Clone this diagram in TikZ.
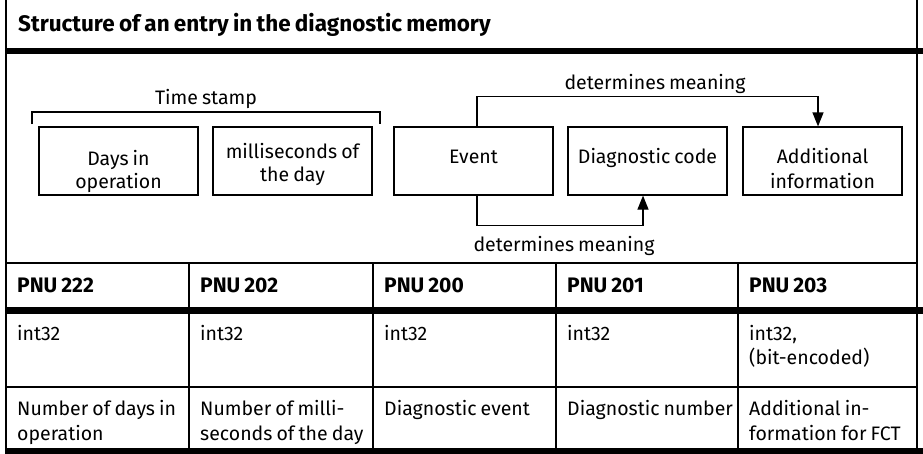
\documentclass[tikz,border=0pt]{standalone}
\usepackage{fontspec}
\setmainfont[WordSpace=0.8]{Fira Sans}
\usetikzlibrary{arrows.meta}

\begin{document}
\begin{tikzpicture}[x=1pt,y=-1pt,
  rule/.style={line width=1.2pt},
  heavyrule/.style={line width=6.5pt},
  box/.style={draw,line width=1.2pt,minimum width=159pt,minimum height=68pt,inner sep=0pt},
  lbl/.style={inner sep=0pt,font=\fontsize{19.5}{24}\selectfont},
  txt/.style={lbl,anchor=base west},
  ctr/.style={lbl,anchor=base},
  hdr/.style={inner sep=0pt,anchor=base west,font=\bfseries\fontsize{21}{24}\selectfont},
  arr/.style={line width=1.2pt,-{Triangle[length=14pt,width=11pt]}}]
\useasboundingbox (0,0) rectangle (923,453);

% frame and title bar
\draw[rule] (6,0) -- (6,453);
\draw[rule] (917,0) -- (917,448);
\node[inner sep=0pt,anchor=base west,font=\bfseries\fontsize{22.5}{24}\selectfont] (title) at (18,31)
  {Structure of an entry in the diagnostic memory};
\draw[heavyrule] (5.4,51) -- (923,51);

% entry fields
\node[box] (days) at (118.5,161) {};
\node[box] (ms)   at (292.5,161) {};
\node[box] (ev)   at (473.5,161) {};
\node[box] (dc)   at (647.5,161) {};
\node[box] (ai)   at (822.5,161) {};

\node[ctr] (days1) at (118.5,165) {Days in};
\node[ctr] (days2) at (118.5,188) {operation};
\node[ctr] (ms1)   at (292.5,158) {milliseconds of};
\node[ctr] (ms2)   at (292.5,181) {the day};
\node[ctr] (evt)   at (473.5,163) {Event};
\node[ctr] (dct)   at (647.5,163) {Diagnostic code};
\node[ctr] (ai1)   at (822.5,163) {Additional};
\node[ctr] (ai2)   at (822.5,188) {information};

% time stamp bracket
\draw[rule] (32,124) -- (32,112) -- (380,112) -- (380,124);
\node[ctr] (ts) at (206,104) {Time stamp};

% meaning relations
\draw[arr] ([xshift=3.5pt]ev.north) -- ++(0,-30) -| ([xshift=-4.5pt]ai.north);
\node[ctr] (dm1) at (655,89) {determines meaning};
\draw[arr] ([xshift=3.5pt]ev.south) -- ++(0,30) -| ([xshift=-4.5pt]dc.south);
\node[ctr] (dm2) at (564,251) {determines meaning};

% parameter table
\draw[rule] (6,263) -- (917,263);
\draw[heavyrule] (5.4,310.5) -- (923,310.5);
\draw[rule] (6,387) -- (917,387);
\draw[heavyrule] (5.4,451) -- (923,451);
\foreach \cx in {189,373,556,738} \draw[rule] (\cx,263) -- (\cx,448);

\node[hdr] (h1) at (17,292)  {PNU 222};
\node[hdr] (h2) at (200,292) {PNU 202};
\node[hdr] (h3) at (384,292) {PNU 200};
\node[hdr] (h4) at (567,292) {PNU 201};
\node[hdr] (h5) at (749,292) {PNU 203};

\node[txt] (t1) at (17,340)  {int32};
\node[txt] (t2) at (200,340) {int32};
\node[txt] (t3) at (384,340) {int32};
\node[txt] (t4) at (567,340) {int32};
\node[txt] (t5a) at (749,340) {int32,};
\node[txt] (t5b) at (749,364) {(bit-encoded)};

\node[txt] (d1a) at (17,415)  {Number of days in};
\node[txt] (d1b) at (17,440)  {operation};
\node[txt] (d2a) at (200,415) {Number of milli-};
\node[txt] (d2b) at (200,440) {seconds of the day};
\node[txt] (d3)  at (384,415) {Diagnostic event};
\node[txt] (d4)  at (567,415) {Diagnostic number};
\node[txt] (d5a) at (749,415) {Additional in-};
\node[txt] (d5b) at (749,440) {formation for FCT};
\end{tikzpicture}
\end{document}
